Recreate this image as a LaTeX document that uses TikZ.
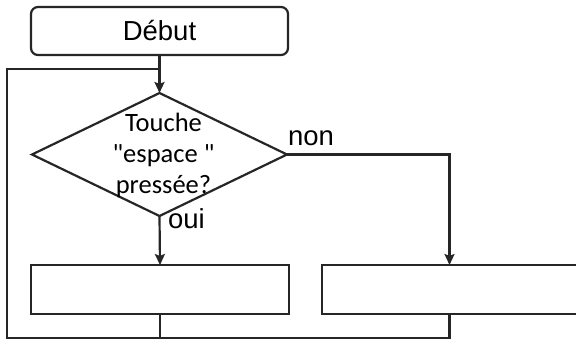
\documentclass[tikz,border=0pt]{standalone}
\usepackage{fontspec}
\setmainfont{Liberation Sans}
\newfontfamily\calib{Carlito}
\usetikzlibrary{shapes.geometric,arrows.meta,calc}
\begin{document}
\begin{tikzpicture}[x=1pt,y=-1pt,
  every node/.style={inner sep=0pt,outer sep=0pt},
  ln/.style={line width=2.2pt, draw=black!85},
  arr/.style={ln,-{Stealth[length=11pt,width=10pt,inset=2pt]}},
  box/.style={ln,rectangle,minimum width=258pt,minimum height=49pt},
  lbl/.style={font=\fontsize{27.5}{30}\selectfont},
  qtext/.style={align=center,font=\calib\fontsize{26.5}{31}\selectfont},
]
\useasboundingbox (0,0) rectangle (576,341);
\node[box,rounded corners=7pt,minimum width=257pt,minimum height=48pt,lbl] (start) at (159.5,31) {Début};
\node[ln,diamond,minimum width=255pt,minimum height=123pt] (d) at (159.5,154.5) {};
\node[qtext] (q) at (163.5,155.5) {Touche\\"espace "\\pressée?};
\node[box] (a) at (160,289.5) {};
\node[box,minimum width=255pt] (b) at (449.5,289.5) {};
\node[lbl,anchor=base west] (non) at (288,145) {non};
\node[lbl,anchor=base west] (oui) at (168,228) {oui};
\coordinate (j) at (159.5,69);
\coordinate (bl) at (7,338);
\draw[arr] (start.south) -- (d.north);
\draw[arr] (d.south) -- (a.north);
\draw[arr] (d.east) -| (b.north);
\draw[ln] (a.south) -- (a.south |- bl);
\draw[ln] (b.south) -- (b.south |- bl) -- (bl) -- (bl |- j) -- (j);
\end{tikzpicture}
\end{document}
